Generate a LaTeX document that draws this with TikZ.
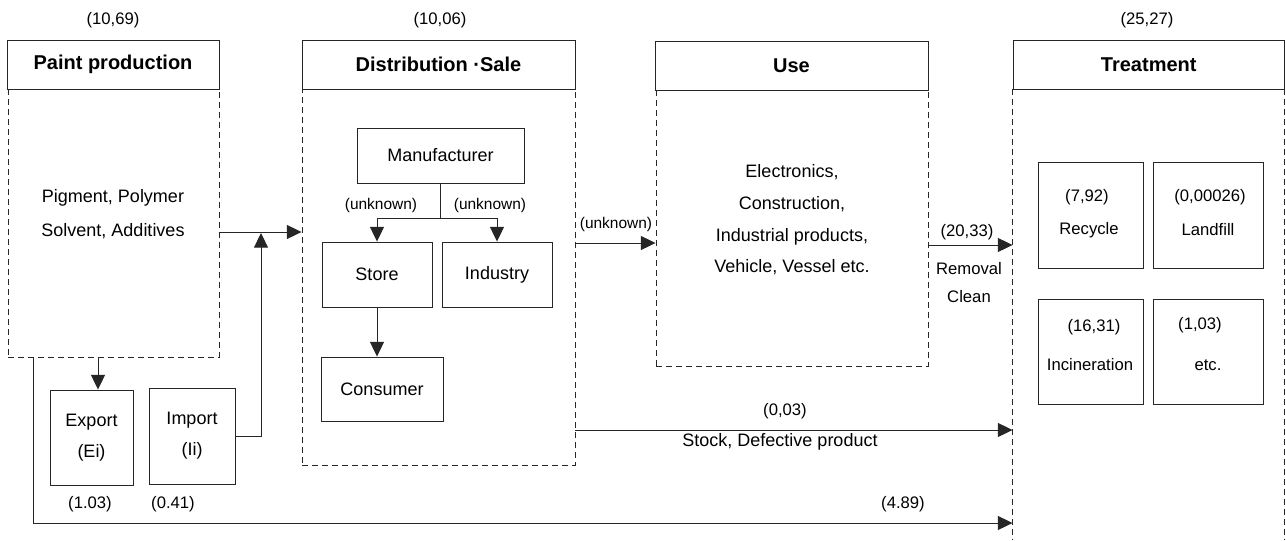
\documentclass[tikz,border=0pt]{standalone}
\usepackage{fontspec}
\setmainfont{Liberation Sans}
\usetikzlibrary{arrows.meta}
\begin{document}
\begin{tikzpicture}[x=0.75pt,y=-0.75pt,
  line width=0.7pt, color=black!85,
  corners/.style n args={4}{minimum width={(#3-(#1))*0.75pt}, minimum height={(#4-(#2))*0.75pt}, at={({(#1+#3)/2},{(#2+#4)/2})}},
  sbox/.style={draw, inner sep=0pt, align=center},
  dbox/.style={draw, dash pattern=on 4.5pt off 3pt, inner sep=0pt},
  dline/.style={dash pattern=on 4.5pt off 3pt},
  head/.style={sbox, text=black, font=\fontsize{15}{18}\selectfont\bfseries},
  txt/.style={text=black, font=\fontsize{13.5}{16}\selectfont, align=center, inner sep=0pt},
  lbl/.style={text=black, font=\fontsize{12.5}{15}\selectfont, inner sep=0pt},
  small/.style={text=black, font=\fontsize{11.6}{14}\selectfont, inner sep=0pt},
  arr/.style={-{Triangle[length=11pt,width=10.5pt]}},
  ]
\useasboundingbox (0,0) rectangle (1286,540);

% headers
\node[head, corners={7}{40}{219}{89}] (prodh) {Paint production};
\node[head, corners={302}{40}{575}{89}] (disth) {Distribution ·Sale};
\node[head, corners={655}{41}{928}{90}] (useh) {Use};
\node[head, corners={1013}{40}{1284.5}{89}] (treath) {Treatment};

\node[lbl] (nprod) at (113,20) {(10,69)};
\node[lbl] (ndist) at (440,20) {(10,06)};
\node[lbl] (ntreat) at (1147,20) {(25,27)};

% dashed bodies
\node[dbox, corners={8}{89}{219}{357}] (prod) {};
\node[dbox, corners={302}{89}{575}{465}] (dist) {};
\node[dbox, corners={656}{90}{928}{366}] (use) {};
\node[inner sep=0pt, corners={1013}{89}{1284}{540}] (treat) {};
\draw[dline] (treat.north west) -- (treat.south west);
\draw[dline] (treat.north east) -- (treat.south east);

% production text
\node[txt, font=\fontsize{13.5}{25.5}\selectfont] (prodtxt) at (113,214) {Pigment, Polymer\\Solvent, Additives};

% distribution inner boxes
\node[sbox, txt, draw, corners={357}{128}{524}{183}] (manu) {Manufacturer};
\node[sbox, txt, draw, corners={322}{242}{432}{307}] (store) {Store};
\node[sbox, txt, draw, corners={442}{242}{552}{307}] (ind) {Industry};
\node[sbox, txt, draw, corners={321}{357}{443}{421}] (cons) {Consumer};

\draw (manu.south) -- (manu.south |- 0,218) coordinate (br);
\draw[arr] (br) -| (store.north);
\draw[arr] (br) -| (ind.north);
\draw[arr] (store.south) -- (store.south |- cons.north);
\node[small] (unk1) at (381,205) {(unknown)};
\node[small] (unk2) at (490,205) {(unknown)};

% export / import
\node[sbox, txt, draw, corners={50}{390}{133}{485}, font=\fontsize{13.5}{23.3}\selectfont] (exp) {Export\\(Ei)};
\node[sbox, txt, draw, corners={149}{388}{235}{484}, font=\fontsize{13.5}{23.3}\selectfont] (imp) {Import\\(Ii)};
\node[lbl] (nexp) at (90,504) {(1.03)};
\node[lbl] (nimp) at (173,504) {(0.41)};

\draw[arr] (prod.south -| 98,0) -- (exp.north -| 98,0);
\draw[arr] (prod.east |- 0,232) -- (dist.west |- 0,232);
\coordinate (join) at (261,233);
\draw[arr] (imp.east |- 0,436) -| (join);

% bottom line
\draw[arr] (prod.south -| 33,0) |- (treat.west |- 0,523);
\node[lbl] (n489) at (903,504) {(4.89)};

% use text
\node[txt, font=\fontsize{13.5}{23.8}\selectfont] (usetxt) at (792,220) {Electronics,\\Construction,\\Industrial products,\\Vehicle, Vessel etc.};

\draw[arr] (dist.east |- 0,243) -- (use.west |- 0,243);
\node[small] (unk3) at (616,224) {(unknown)};

\draw[arr] (use.east |- 0,245) -- (treat.west |- 0,245);
\node[lbl] (n2033) at (967,232) {(20,33)};
\node[lbl, align=center, font=\fontsize{12.5}{21}\selectfont] (remov) at (969,283) {Removal\\Clean};

% stock
\draw[arr] (dist.east |- 0,430) -- (treat.west |- 0,430);
\node[lbl] (n003) at (785,411) {(0,03)};
\node[txt] (stock) at (780,442) {Stock, Defective product};

% treatment inner
\node[sbox, corners={1038}{162}{1143}{268}] (rec) {};
\node[sbox, corners={1153}{162}{1263}{268}] (land) {};
\node[sbox, corners={1038}{299}{1143}{404}] (inc) {};
\node[sbox, corners={1153}{299}{1263}{404}] (etcb) {};
\node[lbl] (nrec) at (1087,197) {(7,92)};
\node[lbl] (trec) at (1089,230) {Recycle};
\node[lbl] (nland) at (1210,197) {(0,00026)};
\node[lbl] (tland) at (1208,230) {Landfill};
\node[lbl] (ninc) at (1094,327) {(16,31)};
\node[lbl] (tinc) at (1090,365) {Incineration};
\node[lbl] (netc) at (1200,325) {(1,03)};
\node[lbl] (tetc) at (1208,365) {etc.};
\end{tikzpicture}
\end{document}
